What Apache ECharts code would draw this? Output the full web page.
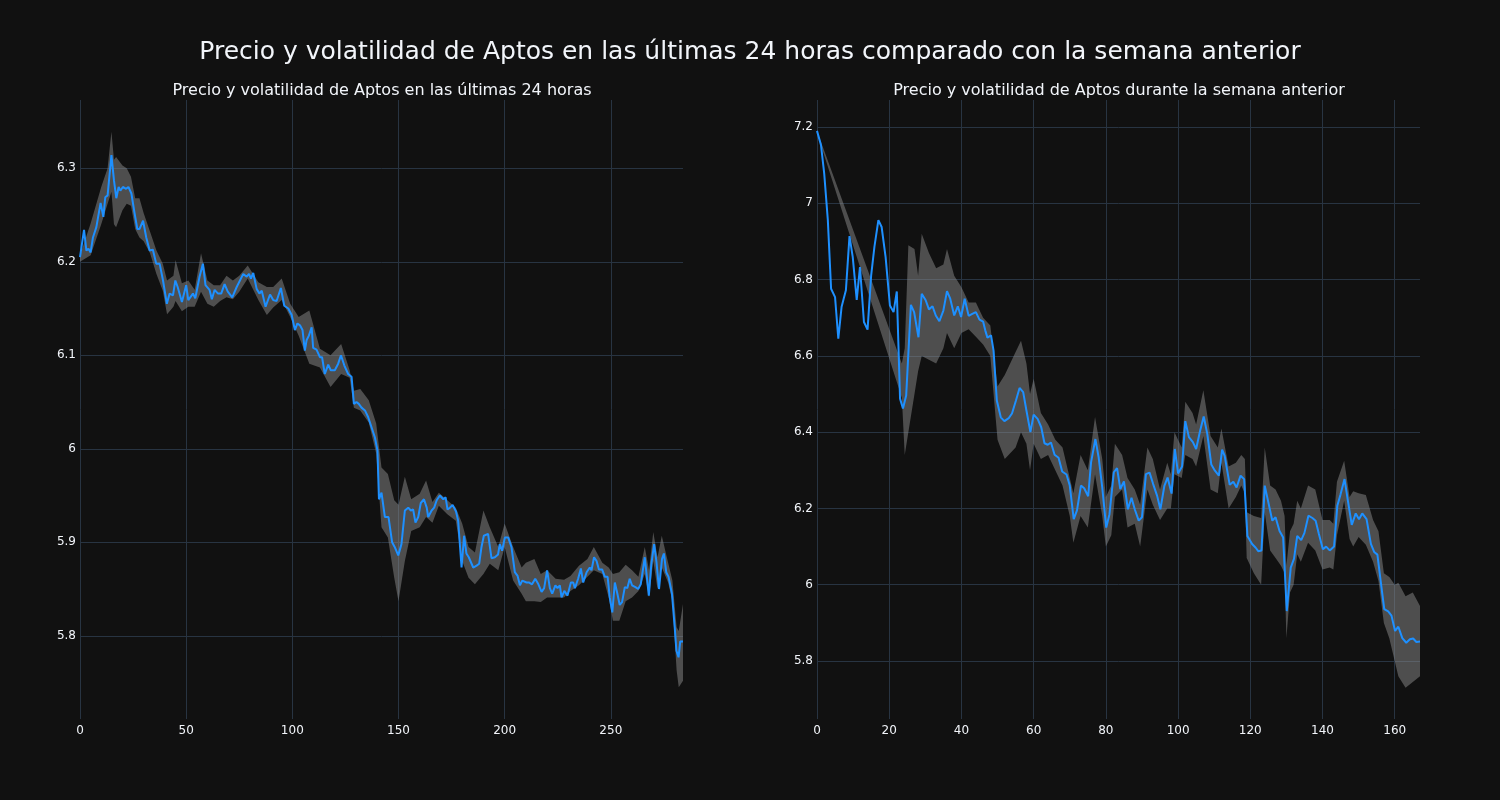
<!DOCTYPE html>
<html>
<head>
<meta charset="utf-8">
<script src="https://cdn.jsdelivr.net/npm/echarts@6/dist/echarts.min.js"></script>
<style>
  html, body { margin: 0; padding: 0; background: #111111; }
  #chart { width: 1500px; height: 800px; }
</style>
</head>
<body>
<div id="chart"></div>
<script>
// últimas 24 horas: precio
const dayX = [0, 1.9, 3, 4, 5, 6.1, 7.7, 9.7, 11, 11.9, 13, 14.8, 16, 17.1, 18.2, 19, 20.2, 21.7, 22.8, 24.2,
  25.7, 27, 28, 29.7, 31.2, 32.8, 34.3, 35.9, 37.5, 39.1, 40.9, 42.2, 43.8, 44.9, 46, 48, 50, 51, 53.2, 54.3,
  56.3, 57.9, 59.1, 61, 62.1, 63.4, 65, 66.5, 68.1, 69.6, 71.7, 73.8, 76.9, 78.5, 79.6, 80.5, 81.6, 83.2, 84.5, 85.6,
  87.4, 89.5, 91, 92.6, 94.6, 96.2, 98.1, 99.7, 101.2, 102.4, 103.6, 104.8, 105.9, 106.7, 107.8, 109.1, 109.8, 111.4, 113, 114,
  115.3, 116.9, 118.1, 120, 121.6, 122.9, 124.5, 126.3, 127.9, 129, 130.2, 131.3, 132.6, 134.2, 135.7, 137.3, 138.9, 140.1, 140.8, 142,
  143.6, 145.3, 147, 148.2, 149.9, 151.4, 153, 154.6, 155.8, 156.9, 158, 159.3, 160.5, 162, 163.3, 164, 165.6, 166.8, 168, 169.5,
  171.1, 172.2, 173.1, 174.2, 175.5, 177.1, 178.1, 179, 179.7, 180.9, 182, 183.1, 184, 185.2, 186.8, 188, 189.1, 190.2, 192.2, 193.8,
  195.4, 196.9, 197.7, 198.8, 200.1, 201.7, 203.2, 204.8, 206.1, 207.2, 208.3, 210.3, 211.4, 212.9, 214.4, 215.7, 217.4, 218.6, 220, 221.3,
  222.4, 223.9, 224.9, 226, 226.8, 228.1, 229.6, 231.2, 232.3, 233.1, 234.6, 235.9, 237, 238.6, 240.1, 240.9, 242.1, 243.3, 244.4, 245.9,
  247.2, 248.5, 249.5, 250.7, 251.9, 253.1, 254.2, 255.3, 256.6, 257.8, 258.9, 260, 261.6, 262.9, 264.1, 266, 267.9, 269.1, 270.4, 271.5,
  272.7, 274.1, 275, 276.1, 277.2, 278.8, 280.1, 280.9, 281.9, 282.7, 284];
const dayPrice = [6.205, 6.234, 6.212, 6.214, 6.210, 6.226, 6.237, 6.263, 6.248, 6.269, 6.271, 6.314, 6.287, 6.268, 6.280, 6.276, 6.280, 6.278, 6.280, 6.273,
  6.252, 6.235, 6.235, 6.244, 6.226, 6.212, 6.213, 6.198, 6.198, 6.180, 6.155, 6.166, 6.164, 6.180, 6.173, 6.157, 6.175, 6.159, 6.166, 6.161,
  6.184, 6.198, 6.175, 6.170, 6.160, 6.170, 6.166, 6.166, 6.176, 6.168, 6.162, 6.173, 6.187, 6.184, 6.187, 6.182, 6.188, 6.171, 6.166, 6.169,
  6.152, 6.165, 6.159, 6.158, 6.172, 6.153, 6.150, 6.143, 6.127, 6.134, 6.132, 6.127, 6.105, 6.116, 6.121, 6.130, 6.108, 6.106, 6.098, 6.098,
  6.080, 6.090, 6.084, 6.084, 6.091, 6.100, 6.089, 6.080, 6.077, 6.048, 6.050, 6.048, 6.044, 6.041, 6.034, 6.023, 6.012, 5.998, 5.946, 5.953,
  5.927, 5.927, 5.900, 5.895, 5.886, 5.898, 5.934, 5.937, 5.934, 5.935, 5.921, 5.927, 5.942, 5.946, 5.937, 5.927, 5.934, 5.937, 5.945, 5.950,
  5.946, 5.948, 5.935, 5.937, 5.940, 5.933, 5.923, 5.921, 5.873, 5.907, 5.888, 5.884, 5.886, 5.873, 5.875, 5.877, 5.895, 5.907, 5.909, 5.883,
  5.884, 5.887, 5.898, 5.891, 5.905, 5.905, 5.895, 5.868, 5.864, 5.854, 5.859, 5.857, 5.857, 5.855, 5.861, 5.856, 5.847, 5.851, 5.870, 5.851,
  5.845, 5.854, 5.851, 5.854, 5.841, 5.848, 5.843, 5.857, 5.857, 5.851, 5.861, 5.872, 5.857, 5.868, 5.873, 5.870, 5.884, 5.880, 5.871, 5.871,
  5.863, 5.863, 5.841, 5.825, 5.857, 5.845, 5.833, 5.836, 5.852, 5.851, 5.861, 5.854, 5.852, 5.850, 5.855, 5.884, 5.843, 5.877, 5.898, 5.879,
  5.850, 5.882, 5.888, 5.868, 5.863, 5.845, 5.809, 5.784, 5.777, 5.794, 5.794];

// últimas 24 horas: banda de volatilidad
const dayBandX = [0, 5, 10, 13, 14.8, 16, 17, 20, 22, 24, 26, 28, 30, 33, 36, 39, 41, 44, 45, 48,
  51, 54, 57, 60, 63, 66, 69, 72, 75, 79, 84, 88, 91, 95, 99, 103, 108, 113, 118, 123,
  127, 129, 132, 136, 139.5, 142, 145, 148, 150, 153, 156, 160, 163, 166, 169, 173, 177, 180, 183, 186,
  190, 193, 197, 200, 204, 208, 210, 214, 217, 220, 224, 228, 231, 235, 239, 242, 246, 249, 251, 254,
  257, 260, 263, 266, 268, 270, 272, 274, 277, 279, 281, 282, 284];
const dayUpper = [6.207, 6.241, 6.280, 6.300, 6.339, 6.309, 6.312, 6.303, 6.300, 6.291, 6.268, 6.268, 6.252, 6.232, 6.212, 6.198, 6.180, 6.185, 6.202, 6.177,
  6.180, 6.170, 6.209, 6.180, 6.175, 6.175, 6.185, 6.180, 6.185, 6.196, 6.178, 6.173, 6.173, 6.182, 6.155, 6.141, 6.148, 6.107, 6.100, 6.112,
  6.084, 6.062, 6.064, 6.052, 6.027, 5.980, 5.973, 5.945, 5.940, 5.970, 5.946, 5.952, 5.966, 5.943, 5.953, 5.945, 5.937, 5.920, 5.895, 5.889,
  5.934, 5.916, 5.895, 5.920, 5.895, 5.873, 5.878, 5.882, 5.866, 5.870, 5.861, 5.860, 5.864, 5.875, 5.882, 5.895, 5.878, 5.873, 5.866, 5.868,
  5.876, 5.870, 5.863, 5.895, 5.870, 5.911, 5.884, 5.907, 5.878, 5.859, 5.809, 5.805, 5.834];
const dayLower = [6.200, 6.207, 6.240, 6.262, 6.275, 6.240, 6.237, 6.255, 6.262, 6.260, 6.235, 6.226, 6.222, 6.209, 6.187, 6.169, 6.144, 6.152, 6.158, 6.147,
  6.152, 6.152, 6.168, 6.155, 6.152, 6.158, 6.162, 6.160, 6.168, 6.182, 6.159, 6.143, 6.151, 6.159, 6.141, 6.121, 6.091, 6.087, 6.066, 6.080,
  6.076, 6.044, 6.041, 6.028, 5.995, 5.916, 5.905, 5.862, 5.837, 5.880, 5.912, 5.916, 5.927, 5.921, 5.939, 5.930, 5.923, 5.880, 5.862, 5.855,
  5.866, 5.877, 5.870, 5.895, 5.859, 5.845, 5.837, 5.837, 5.836, 5.841, 5.841, 5.841, 5.848, 5.854, 5.863, 5.870, 5.866, 5.841, 5.816, 5.816,
  5.837, 5.841, 5.848, 5.866, 5.841, 5.880, 5.850, 5.873, 5.857, 5.837, 5.763, 5.745, 5.752];

// semana anterior: precio
const weekX = [0, 1.1, 2, 3, 3.9, 5, 5.9, 6.8, 8, 9, 9.9, 11, 11.9, 13, 14, 15, 15.9, 17, 17.9, 19,
  20.2, 21.2, 22.1, 23, 23.8, 24.7, 26, 26.9, 28.1, 29, 30.1, 31, 32, 32.9, 33.9, 35, 36, 36.9, 38, 39,
  39.9, 40.9, 42, 43, 44, 45, 46, 46.6, 47.2, 48.2, 48.9, 49.8, 50.9, 51.9, 53.1, 54, 55.1, 56.1, 57.1, 58,
  59.1, 60, 61.1, 62.1, 63, 63.9, 64.8, 65.8, 66.9, 67.9, 69.1, 70, 71.1, 72, 73.1, 74, 75.1, 75.9, 77.1, 78,
  79, 80.1, 81, 82.2, 83.1, 84, 85, 86.1, 87.1, 88, 89.1, 90, 91.1, 92.1, 93.1, 94.2, 95.1, 96.2, 97.1, 98.2,
  99.1, 100, 101.1, 102, 103, 104.1, 105, 106.1, 107.1, 108.1, 109.2, 110.2, 111.3, 112.2, 112.9, 114.3, 115.3, 116.2, 117.3, 118.3,
  119.2, 120.5, 121.5, 122.2, 123.1, 124, 125, 126.1, 127, 128.1, 129.1, 130.1, 131.2, 132.1, 133, 134.1, 135, 136.1, 137.2, 138.1,
  139, 140.1, 141, 142, 143.2, 144.1, 145, 146.1, 147.1, 148.1, 149.2, 150.1, 151, 152.2, 153.4, 154.3, 155.2, 156.1, 157.1, 158.2,
  159.1, 160.1, 161, 162.1, 163.2, 164.2, 165.1, 166, 167];
const weekPrice = [7.190, 7.153, 7.078, 6.956, 6.776, 6.754, 6.645, 6.728, 6.772, 6.914, 6.859, 6.747, 6.833, 6.689, 6.669, 6.811, 6.886, 6.956, 6.938, 6.859,
  6.732, 6.715, 6.769, 6.488, 6.462, 6.496, 6.734, 6.715, 6.649, 6.763, 6.746, 6.722, 6.730, 6.706, 6.691, 6.719, 6.770, 6.750, 6.706, 6.730,
  6.702, 6.750, 6.705, 6.710, 6.715, 6.695, 6.690, 6.667, 6.648, 6.654, 6.614, 6.483, 6.439, 6.429, 6.437, 6.449, 6.483, 6.516, 6.505, 6.457,
  6.400, 6.446, 6.435, 6.413, 6.371, 6.367, 6.373, 6.341, 6.333, 6.297, 6.289, 6.260, 6.172, 6.195, 6.260, 6.253, 6.232, 6.321, 6.382, 6.334,
  6.255, 6.150, 6.185, 6.295, 6.306, 6.251, 6.271, 6.198, 6.228, 6.198, 6.168, 6.177, 6.290, 6.294, 6.264, 6.233, 6.198, 6.259, 6.281, 6.239,
  6.356, 6.292, 6.310, 6.429, 6.387, 6.374, 6.356, 6.404, 6.441, 6.395, 6.315, 6.299, 6.286, 6.354, 6.338, 6.262, 6.270, 6.255, 6.286, 6.277,
  6.128, 6.107, 6.097, 6.088, 6.090, 6.260, 6.216, 6.168, 6.177, 6.141, 6.124, 5.931, 6.045, 6.068, 6.128, 6.117, 6.136, 6.181, 6.175, 6.168,
  6.133, 6.093, 6.100, 6.090, 6.100, 6.207, 6.237, 6.277, 6.216, 6.157, 6.187, 6.172, 6.187, 6.172, 6.107, 6.086, 6.079, 6.010, 5.936, 5.930,
  5.919, 5.879, 5.890, 5.860, 5.848, 5.857, 5.859, 5.850, 5.851];

// semana anterior: banda de volatilidad
const weekBandX = [0, 23.5, 24.3, 25.3, 27, 28, 29, 31, 33, 35, 36, 38, 40, 42, 44, 46, 48, 50, 52, 55, 56.5,
  58, 59, 60, 62, 64, 66, 68, 70, 71, 73, 75, 77, 79, 80, 81.5, 82.5, 84.5, 86, 88, 89.5,
  91.5, 93, 95, 97, 98, 99, 101, 102, 104, 105, 107, 109, 111, 112, 114, 116, 117.5, 118.5, 119, 121,
  123, 124, 125.5, 127, 128.5, 129.5, 130, 131, 132, 133, 134, 136, 138, 140, 142, 143, 144, 146, 147.5, 148.5,
  150, 152, 154, 155.5, 157, 158.5, 160, 161, 163, 165, 167];
const weekUpper = [7.190, 6.580, 6.620, 6.890, 6.880, 6.810, 6.920, 6.870, 6.830, 6.840, 6.880, 6.810, 6.780, 6.740, 6.740, 6.700, 6.680, 6.520, 6.550, 6.610, 6.640,
  6.580, 6.500, 6.540, 6.450, 6.420, 6.380, 6.360, 6.280, 6.240, 6.340, 6.300, 6.440, 6.330, 6.230, 6.260, 6.370, 6.340, 6.280, 6.250, 6.210,
  6.360, 6.330, 6.250, 6.320, 6.290, 6.400, 6.360, 6.480, 6.450, 6.420, 6.510, 6.390, 6.360, 6.410, 6.310, 6.320, 6.340, 6.330, 6.190, 6.180,
  6.175, 6.360, 6.260, 6.250, 6.220, 6.180, 6.050, 6.140, 6.160, 6.220, 6.200, 6.260, 6.250, 6.170, 6.170, 6.160, 6.270, 6.325, 6.230, 6.245,
  6.240, 6.235, 6.170, 6.140, 6.030, 6.020, 6.000, 6.005, 5.970, 5.980, 5.944];
const weekLower = [7.185, 6.490, 6.340, 6.400, 6.500, 6.560, 6.600, 6.590, 6.580, 6.620, 6.660, 6.620, 6.660, 6.670, 6.650, 6.630, 6.600, 6.380, 6.330, 6.360, 6.400,
  6.370, 6.300, 6.370, 6.330, 6.340, 6.300, 6.260, 6.180, 6.110, 6.180, 6.150, 6.290, 6.180, 6.100, 6.130, 6.230, 6.250, 6.150, 6.160, 6.100,
  6.250, 6.210, 6.170, 6.200, 6.200, 6.290, 6.280, 6.340, 6.330, 6.310, 6.390, 6.250, 6.240, 6.320, 6.200, 6.230, 6.260, 6.240, 6.070, 6.030,
  6.000, 6.190, 6.090, 6.070, 6.050, 6.030, 5.860, 5.980, 6.000, 6.080, 6.060, 6.110, 6.090, 6.040, 6.045, 6.040, 6.130, 6.220, 6.120, 6.100,
  6.125, 6.105, 6.060, 6.010, 5.900, 5.860, 5.800, 5.760, 5.730, 5.745, 5.760];

const yDayTicks = [5.8, 5.9, 6, 6.1, 6.2, 6.3];
const yWeekTicks = [5.8, 6, 6.2, 6.4, 6.6, 6.8, 7, 7.2];

const textColor = '#f2f5fa';
const gridColor = '#283442';
const font = 'DejaVu Sans';

const pair = (xs, ys) => xs.map((x, i) => [x, ys[i]]);
const onTick = (ticks) => (v) => ticks.some(t => Math.abs(t - v) < 1e-6) ? String(v) : '';

// banda de volatilidad: polígono entre límite superior e inferior
const bandSeries = (xs, up, lo, idx) => ({
    type: 'custom',
    xAxisIndex: idx,
    yAxisIndex: idx,
    silent: true,
    z: 1,
    data: xs.map((x, i) => [x, up[i], lo[i]]),
    encode: { x: 0, y: [1, 2] },
    renderItem: function (params, api) {
        if (params.dataIndex !== 0) return null;
        const pts = [];
        for (let i = 0; i < xs.length; i++) pts.push(api.coord([xs[i], up[i]]));
        for (let i = xs.length - 1; i >= 0; i--) pts.push(api.coord([xs[i], lo[i]]));
        return {
            type: 'polygon',
            shape: { points: pts },
            style: { fill: 'rgba(140,140,140,0.5)' },
        };
    },
});

const priceSeries = (data, idx) => ({
    type: 'line',
    xAxisIndex: idx,
    yAxisIndex: idx,
    data: data,
    showSymbol: false,
    symbol: 'none',
    z: 3,
    lineStyle: { color: '#1e90ff', width: 2 },
    animation: false,
});

const xAxisBase = {
    type: 'value',
    axisLine: { show: false },
    axisTick: { show: false },
    axisLabel: { color: textColor, fontSize: 12, fontFamily: font, margin: 6, showMaxLabel: false },
    splitLine: { showMaxLine: false, lineStyle: { color: gridColor, width: 1 } },
};
const yAxisBase = {
    type: 'value',
    axisLine: { show: false },
    axisTick: { show: false },
    splitLine: { showMinLine: false, showMaxLine: false, lineStyle: { color: gridColor, width: 1 } },
};

const myChart = echarts.init(document.getElementById('chart'));
myChart.setOption({
    backgroundColor: '#111111',
    animation: false,
    title: [
        {
            text: 'Precio y volatilidad de Aptos en las últimas 24 horas comparado con la semana anterior',
            left: 'center', top: 35,
            textStyle: { color: textColor, fontSize: 25, fontWeight: 'normal', fontFamily: font },
        },
        {
            text: 'Precio y volatilidad de Aptos en las últimas 24 horas',
            left: 377, top: 78, textAlign: 'center',
            textStyle: { color: textColor, fontSize: 16, fontWeight: 'normal', fontFamily: font },
        },
        {
            text: 'Precio y volatilidad de Aptos durante la semana anterior',
            left: 1114, top: 78, textAlign: 'center',
            textStyle: { color: textColor, fontSize: 16, fontWeight: 'normal', fontFamily: font },
        },
    ],
    grid: [
        { left: 80, right: 817, top: 100, bottom: 81 },
        { left: 817, right: 80, top: 100, bottom: 81 },
    ],
    xAxis: [
        Object.assign({}, xAxisBase, { gridIndex: 0, min: 0, max: 284, interval: 50 }),
        Object.assign({}, xAxisBase, { gridIndex: 1, min: 0, max: 167, interval: 20 }),
    ],
    yAxis: [
        Object.assign({}, yAxisBase, {
            gridIndex: 0, min: 5.711, max: 6.373, splitNumber: 6,
            axisLabel: { color: textColor, fontSize: 12, fontFamily: font, margin: 4, formatter: onTick(yDayTicks) },
        }),
        Object.assign({}, yAxisBase, {
            gridIndex: 1, min: 5.648, max: 7.271, splitNumber: 8,
            axisLabel: { color: textColor, fontSize: 12, fontFamily: font, margin: 4, formatter: onTick(yWeekTicks) },
        }),
    ],
    series: [
        bandSeries(dayBandX, dayUpper, dayLower, 0),
        priceSeries(pair(dayX, dayPrice), 0),
        bandSeries(weekBandX, weekUpper, weekLower, 1),
        priceSeries(pair(weekX, weekPrice), 1),
    ],
});
</script>
</body>
</html>
